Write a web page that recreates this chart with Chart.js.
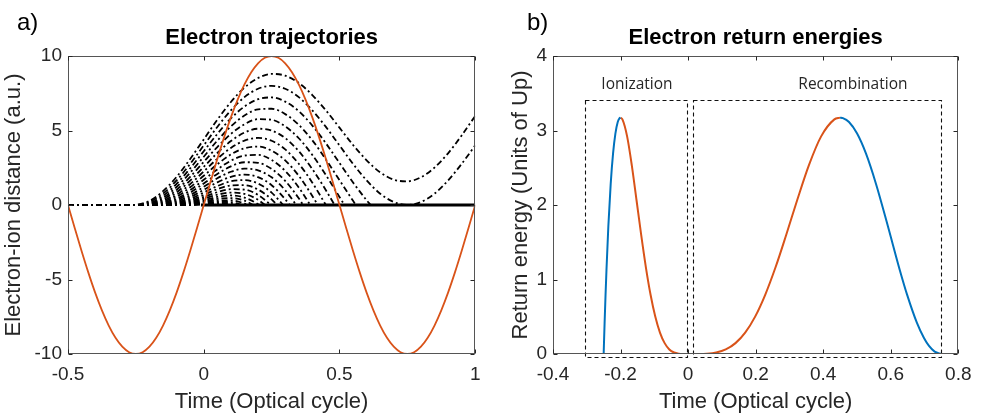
<!DOCTYPE html>
<html>
<head>
<meta charset="utf-8">
<script src="https://cdn.jsdelivr.net/npm/chart.js@4.4.1/dist/chart.umd.min.js"></script>
<style>
html,body{margin:0;padding:0;background:#fff;}
#wrap{position:relative;width:981px;height:418px;overflow:hidden;background:#fff;}
#c1{position:absolute;left:0;top:0;width:490px;height:418px;}
#c2{position:absolute;left:490px;top:0;width:491px;height:418px;}
</style>
</head>
<body>
<div id="wrap">
<canvas id="c1" width="490" height="418"></canvas>
<canvas id="c2" width="491" height="418"></canvas>
</div>
<script>
// ================= DATA: panel a) Electron trajectories =================
const fieldTimes = [-0.5,-0.475,-0.45,-0.425,-0.4,-0.375,-0.35,-0.325,-0.3,-0.275,-0.25,-0.225,-0.2,-0.175,-0.15,-0.125,-0.1,-0.075,-0.05,-0.025,0,0.025,0.05,0.075,0.1,0.125,0.15,0.175,0.2,0.225,0.25,0.275,0.3,0.325,0.35,0.375,0.4,0.425,0.45,0.475,0.5,0.525,0.55,0.575,0.6,0.625,0.65,0.675,0.7,0.725,0.75,0.775,0.8,0.825,0.85,0.875,0.9,0.925,0.95,0.975,1];
const fieldValues = [0,-1.56,-3.09,-4.54,-5.88,-7.07,-8.09,-8.91,-9.51,-9.88,-10,-9.88,-9.51,-8.91,-8.09,-7.07,-5.88,-4.54,-3.09,-1.56,0,1.56,3.09,4.54,5.88,7.07,8.09,8.91,9.51,9.88,10,9.88,9.51,8.91,8.09,7.07,5.88,4.54,3.09,1.56,0,-1.56,-3.09,-4.54,-5.88,-7.07,-8.09,-8.91,-9.51,-9.88,-10,-9.88,-9.51,-8.91,-8.09,-7.07,-5.88,-4.54,-3.09,-1.56,0];

const gridTimes = [-0.25,-0.2,-0.15,-0.1,-0.05,0,0.05,0.1,0.15,0.2,0.25,0.3,0.35,0.4,0.45,0.5,0.55,0.6,0.65,0.7,0.75,0.8,0.85,0.9,0.95,1];
const ionizationTimes = [-0.26,-0.25,-0.24,-0.23,-0.22,-0.21,-0.20,-0.19,-0.18,-0.17,-0.16,-0.15,-0.14,-0.13,-0.12,-0.11,-0.10,-0.09,-0.08,-0.07,-0.06,-0.05];
const recombinationTimes = [null,null,0.6149,0.5603,0.5181,0.4820,0.4498,0.4201,0.3923,0.3660,0.3408,0.3165,0.2930,0.2701,0.2478,0.2259,0.2044,0.1831,0.1621,0.1414,0.1208,0.1005];
const trajectoryDistances = [
  [0.01,0.28,0.93,1.89,3.09,4.40,5.72,6.91,7.88,8.52,8.80,8.68,8.19,7.38,6.35,5.19,4.03,3.00,2.19,1.70,1.59,1.86,2.51,3.47,4.67,5.98],
  [0,0.20,0.76,1.65,2.76,4.00,5.24,6.35,7.24,7.80,8.00,7.80,7.24,6.35,5.24,4.00,2.76,1.65,0.76,0.20,0,0.20,0.76,1.65,2.76,4.00],
  [null,0.12,0.61,1.42,2.46,3.61,4.77,5.81,6.61,7.10,7.22,6.94,6.30,5.33,4.14,2.82,1.51,0.32],
  [null,0.07,0.48,1.21,2.17,3.24,4.32,5.28,6.01,6.42,6.46,6.10,5.38,4.34,3.06,1.67,0.28],
  [null,0.03,0.36,1.01,1.89,2.89,3.89,4.77,5.42,5.76,5.72,5.28,4.48,3.36,2.01,0.54],
  [null,0.01,0.26,0.84,1.64,2.56,3.49,4.29,4.86,5.12,5.00,4.49,3.61,2.41,0.99],
  [null,null,0.18,0.68,1.40,2.25,3.10,3.83,4.32,4.50,4.31,3.73,2.77,1.50],
  [null,null,0.11,0.54,1.19,1.96,2.73,3.39,3.81,3.92,3.65,2.99,1.96,0.61],
  [null,null,0.06,0.41,0.99,1.69,2.39,2.97,3.32,3.36,3.02,2.29,1.18],
  [null,null,0.03,0.31,0.82,1.45,2.08,2.59,2.87,2.83,2.42,1.62,0.45],
  [null,null,0.01,0.22,0.66,1.22,1.79,2.23,2.44,2.33,1.86,0.99],
  [null,null,null,0.15,0.52,1.02,1.52,1.89,2.04,1.87,1.33,0.39],
  [null,null,null,0.09,0.40,0.84,1.27,1.59,1.67,1.44,0.83],
  [null,null,null,0.05,0.30,0.68,1.06,1.31,1.33,1.04,0.38],
  [null,null,null,0.02,0.22,0.54,0.86,1.06,1.03,0.68],
  [null,null,null,0.00,0.15,0.42,0.69,0.83,0.75,0.35],
  [null,null,null,null,0.10,0.32,0.54,0.64,0.50,0.06],
  [null,null,null,null,0.06,0.23,0.41,0.46,0.29],
  [null,null,null,null,0.03,0.17,0.30,0.31,0.10],
  [null,null,null,null,0.01,0.11,0.21,0.19],
  [null,null,null,null,0.00,0.07,0.14,0.08],
  [null,null,null,null,null,0.04,0.08]
];
const returnedLineSpan = [-0.01, 1];

const leftXTicks = [-0.5, 0, 0.5, 1];
const leftXTickLabels = ['-0.5', '0', '0.5', '1'];
const leftYTicks = [-10, -5, 0, 5, 10];
const leftYTickLabels = ['-10', '-5', '0', '5', '10'];

// ================= DATA: panel b) Electron return energies =================
const ionTimesLong = [-0.25,-0.2498,-0.24931,-0.24861,-0.24722,-0.24444,-0.24167,-0.23611,-0.22917,-0.22222,-0.21528,-0.20833,-0.20278,-0.2];
const ionEnergiesLong = [0,0.032,0.108,0.214,0.417,0.793,1.128,1.718,2.283,2.689,2.959,3.114,3.166,3.173];
const ionTimesShort = [-0.2,-0.19444,-0.18056,-0.16667,-0.15278,-0.13889,-0.125,-0.11111,-0.09722,-0.08333,-0.06944,-0.05556,-0.04167,-0.02778,-0.01389,0];
const ionEnergiesShort = [3.173,3.149,2.921,2.532,2.067,1.598,1.164,0.795,0.502,0.287,0.146,0.061,0.020,0.004,0.0003,0];
const recTimesShort = [0,0.0278,0.0556,0.0833,0.1115,0.1403,0.1690,0.1985,0.2283,0.2589,0.2904,0.3231,0.3575,0.3939,0.4331,0.4498];
const recEnergiesShort = [0,0.0003,0.004,0.020,0.061,0.146,0.287,0.502,0.795,1.164,1.598,2.067,2.532,2.921,3.149,3.173];
const recTimesLong = [0.4498,0.4584,0.4764,0.5004,0.5268,0.5564,0.5914,0.6267,0.6486,0.6776,0.6984,0.7133,0.73,0.75];
const recEnergiesLong = [3.173,3.166,3.114,2.959,2.689,2.283,1.718,1.128,0.793,0.417,0.214,0.108,0.032,0];

const ionizationWindow = [-0.304, -0.004, -0.035, 3.41];     // x0, x1, y0, y1
const recombinationWindow = [0.0156, 0.75, -0.035, 3.41];
const rightXTicks = [-0.4, -0.2, 0, 0.2, 0.4, 0.6, 0.8];
const rightXTickLabels = ['-0.4', '-0.2', '0', '0.2', '0.4', '0.6', '0.8'];
const rightYTicks = [0, 1, 2, 3, 4];
const rightYTickLabels = ['0', '1', '2', '3', '4'];

// ================= STYLE =================
const FONT = '"Liberation Sans", Arial, Helvetica, sans-serif';
const TEXT = '#262626';
const ORANGE = '#D95319';
const BLUE = '#0072BD';

const zip = (xs, ys) => xs.map((x, i) => ({x: x, y: ys[i]}));

function trajectoryPoints(i) {
  const t0 = ionizationTimes[i];
  const tr = recombinationTimes[i];
  const row = trajectoryDistances[i];
  const pts = [{x: -0.5, y: 0}, {x: t0, y: 0}];
  gridTimes.forEach((t, k) => {
    const v = row[k];
    if (v === undefined || v === null) return;
    if (t <= t0 + 1e-9) return;
    if (tr !== null && t >= tr - 1e-9) return;
    pts.push({x: t, y: v});
  });
  if (tr !== null) pts.push({x: tr, y: 0});
  return pts;
}

const matlabAxes = {
  id: 'matlabAxes',
  afterDatasetsDraw(chart, _args, o) {
    const ctx = chart.ctx;
    const a = chart.chartArea;
    const xs = chart.scales.x, ys = chart.scales.y;
    ctx.save();
    // dashed windows
    (o.windows || []).forEach(w => {
      const L = Math.round(xs.getPixelForValue(w[0])) + 0.5;
      const R = Math.round(xs.getPixelForValue(w[1])) + 0.5;
      const B = Math.round(ys.getPixelForValue(w[2])) + 0.5;
      const T = Math.round(ys.getPixelForValue(w[3])) + 0.5;
      ctx.setLineDash([4, 3]);
      ctx.lineWidth = 1.1;
      ctx.strokeStyle = '#111111';
      ctx.strokeRect(L, T, R - L, B - T);
    });
    ctx.setLineDash([]);
    // box
    const l = Math.round(a.left) + 0.5, r = Math.round(a.right) - 0.5;
    const t = Math.round(a.top) + 0.5, b = Math.round(a.bottom) - 0.5;
    ctx.strokeStyle = '#555555';
    ctx.lineWidth = 1;
    ctx.strokeRect(l, t, r - l, b - t);
    ctx.strokeStyle = TEXT;
    ctx.beginPath();
    o.xTicks.forEach(v => {
      const p = Math.round(xs.getPixelForValue(v)) + 0.5;
      ctx.moveTo(p, b); ctx.lineTo(p, b - 4);
      ctx.moveTo(p, t); ctx.lineTo(p, t + 4);
    });
    o.yTicks.forEach(v => {
      const p = Math.round(ys.getPixelForValue(v)) + 0.5;
      ctx.moveTo(l, p); ctx.lineTo(l + 4, p);
      ctx.moveTo(r, p); ctx.lineTo(r - 4, p);
    });
    ctx.stroke();
    // title
    ctx.fillStyle = '#000';
    ctx.font = 'bold 22px ' + FONT;
    ctx.textAlign = 'center';
    ctx.textBaseline = 'middle';
    ctx.fillText(o.title, (a.left + a.right) / 2, 38);
    // panel letter
    ctx.fillStyle = '#000';
    ctx.font = '24px ' + FONT;
    ctx.textAlign = 'left';
    ctx.textBaseline = 'alphabetic';
    ctx.fillText(o.letter, o.letterX, 29.5);
    // notes
    (o.notes || []).forEach(n => {
      ctx.fillStyle = TEXT;
      ctx.font = '15.5px "Open Sans", sans-serif';
      ctx.textAlign = 'center';
      ctx.textBaseline = 'middle';
      ctx.fillText(n.text, xs.getPixelForValue(n.x), ys.getPixelForValue(n.y));
    });
    ctx.restore();
  }
};

function axisOptions(min, max, ticks, labels, isX, width, titleText, titlePad) {
  return {
    type: 'linear',
    min: min, max: max,
    grid: {display: false, drawTicks: false},
    border: {display: false},
    afterBuildTicks: s => { s.ticks = ticks.map(v => ({value: v})); },
    afterFit: s => { if (isX) s.height = 64; else s.width = width; },
    ticks: {
      font: {family: FONT, size: 19},
      color: TEXT,
      padding: isX ? 9.5 : 6,
      maxRotation: 0,
      autoSkip: false,
      callback: v => { const k = ticks.indexOf(v); return k >= 0 ? labels[k] : ''; }
    },
    title: {
      display: true,
      text: titleText,
      color: TEXT,
      font: {family: FONT, size: 22},
      padding: titlePad
    }
  };
}

const common = {
  responsive: false,
  animation: false,
  events: [],
  plugins: {legend: {display: false}, tooltip: {enabled: false}, title: {display: false}},
  elements: {point: {radius: 0}, line: {cubicInterpolationMode: 'monotone', fill: false}}
};

// ---------- left chart ----------
const leftDatasets = [];
leftDatasets.push({
  data: zip(fieldTimes, fieldValues),
  borderColor: ORANGE, borderWidth: 1.8, order: -1
});
ionizationTimes.forEach((t0, i) => {
  leftDatasets.push({
    data: trajectoryPoints(i),
    borderColor: '#000', borderWidth: 1.8,
    borderDash: [6, 3, 2, 3], order: 1
  });
});
leftDatasets.push({
  data: [{x: returnedLineSpan[0], y: 0}, {x: returnedLineSpan[1], y: 0}],
  borderColor: '#000', borderWidth: 3, order: 0
});

new Chart(document.getElementById('c1'), {
  type: 'line',
  data: {datasets: leftDatasets},
  options: Object.assign({}, common, {
    layout: {padding: {left: 0, right: 14, top: 56, bottom: 0}},
    scales: {
      x: axisOptions(-0.5, 1, leftXTicks, leftXTickLabels, true, 0, 'Time (Optical cycle)', {top: 0, bottom: 3}),
      y: axisOptions(-10, 10, leftYTicks, leftYTickLabels, false, 68, 'Electron-ion distance (a.u.)', {top: 1, bottom: 0})
    },
    plugins: Object.assign({}, common.plugins, {
      matlabAxes: {title: 'Electron trajectories', letter: 'a)', letterX: 17, xTicks: leftXTicks, yTicks: leftYTicks}
    })
  }),
  plugins: [matlabAxes]
});

// ---------- right chart ----------
new Chart(document.getElementById('c2'), {
  type: 'line',
  data: {datasets: [
    {data: zip(ionTimesLong, ionEnergiesLong), borderColor: BLUE, borderWidth: 2},
    {data: zip(ionTimesShort, ionEnergiesShort), borderColor: ORANGE, borderWidth: 2},
    {data: zip(recTimesShort, recEnergiesShort), borderColor: ORANGE, borderWidth: 2},
    {data: zip(recTimesLong, recEnergiesLong), borderColor: BLUE, borderWidth: 2}
  ]},
  options: Object.assign({}, common, {
    layout: {padding: {left: 0, right: 20, top: 56, bottom: 0}},
    scales: {
      x: axisOptions(-0.4, 0.8, rightXTicks, rightXTickLabels, true, 0, 'Time (Optical cycle)', {top: 0, bottom: 3}),
      y: axisOptions(0, 4, rightYTicks, rightYTickLabels, false, 63, 'Return energy (Units of Up)', {top: 18, bottom: 0})
    },
    plugins: Object.assign({}, common.plugins, {
      matlabAxes: {
        title: 'Electron return energies', letter: 'b)', letterX: 37,
        xTicks: rightXTicks, yTicks: rightYTicks,
        windows: [ionizationWindow, recombinationWindow],
        notes: [{text: 'Ionization', x: -0.1515, y: 3.62}, {text: 'Recombination', x: 0.488, y: 3.62}]
      }
    })
  }),
  plugins: [matlabAxes]
});
</script>
</body>
</html>
